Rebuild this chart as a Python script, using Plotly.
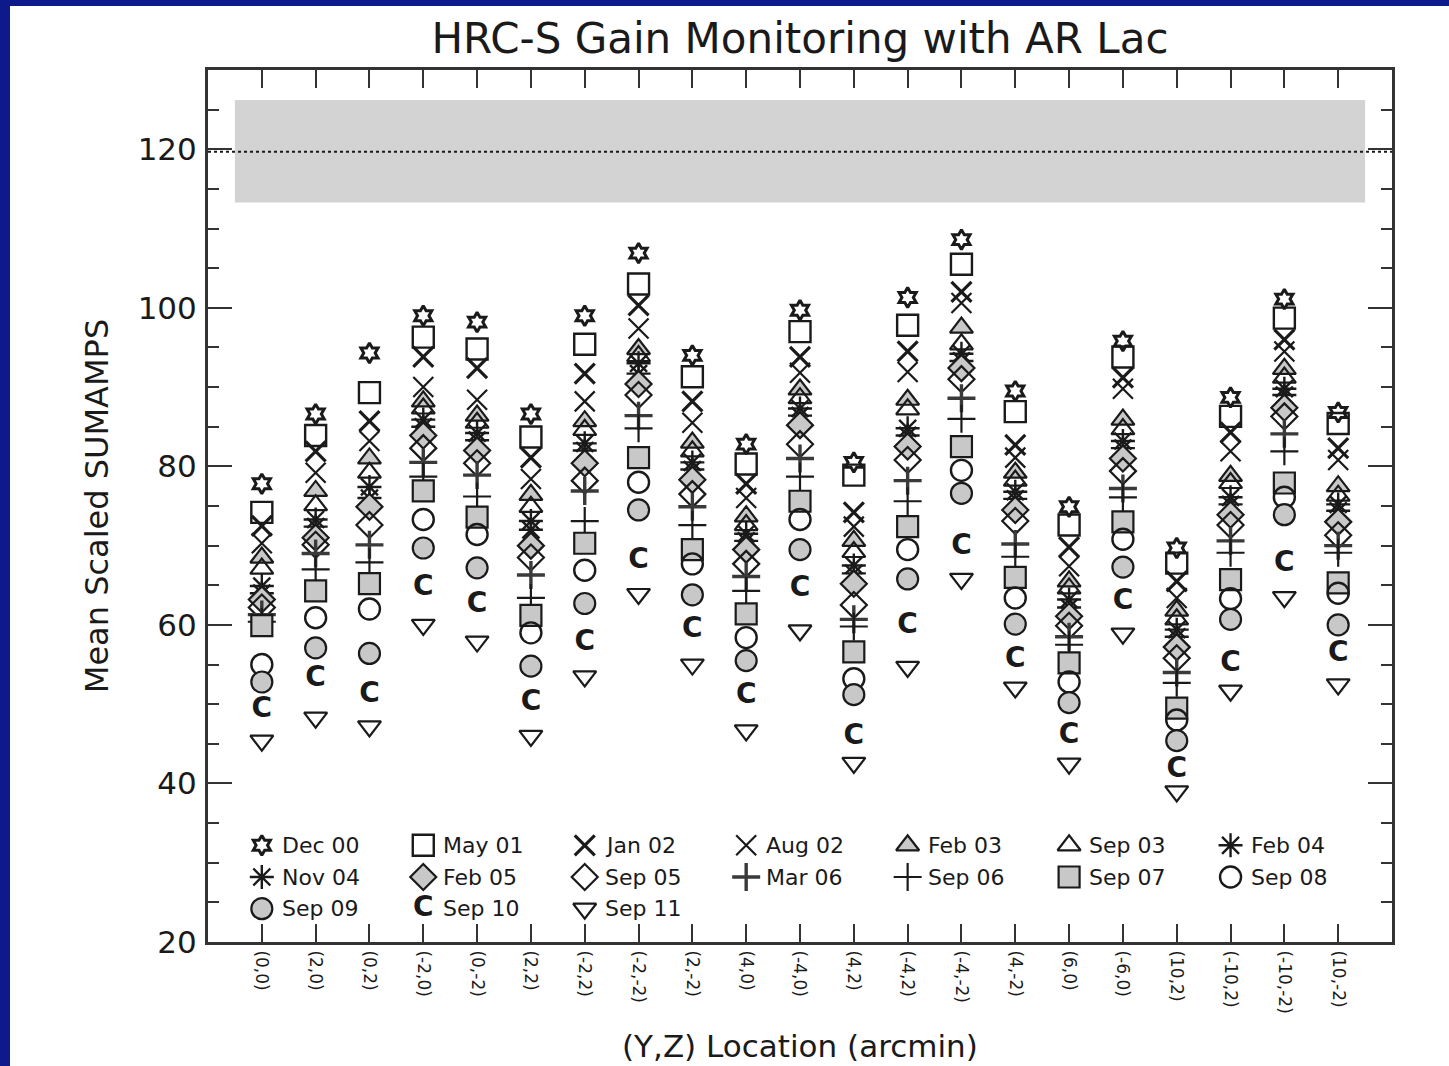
import plotly.graph_objects as go

# ---------------- data ----------------
locations = ["(0,0)", "(2,0)", "(0,2)", "(-2,0)", "(0,-2)", "(2,2)", "(-2,2)",
             "(-2,-2)", "(2,-2)", "(4,0)", "(-4,0)", "(4,2)", "(-4,2)", "(-4,-2)",
             "(4,-2)", "(6,0)", "(-6,0)", "(10,2)", "(-10,2)", "(-10,-2)", "(10,-2)"]

epochs = ["Dec 00", "May 01", "Jan 02", "Aug 02", "Feb 03", "Sep 03", "Feb 04",
          "Nov 04", "Feb 05", "Sep 05", "Mar 06", "Sep 06", "Sep 07", "Sep 08",
          "Sep 09", "Sep 10", "Sep 11"]

dec00 = [77.8, 86.6, 94.3, 99.0, 98.2, 86.6, 99.0, 106.9, 94.0, 82.8, 99.7, 80.5, 101.3, 108.6, 89.5, 74.9, 95.8, 69.7, 88.7, 101.1, 86.8]
may01 = [74.2, 83.9, 89.3, 96.3, 94.8, 83.7, 95.4, 103.0, 91.3, 80.3, 97.0, 78.9, 97.8, 105.5, 86.9, 72.6, 93.8, 67.8, 86.3, 98.7, 85.4]
jan02 = [72.5, 81.9, 85.7, 93.8, 92.4, 81.1, 91.7, 100.3, 88.2, 77.8, 93.8, 74.2, 94.5, 102.0, 82.7, 69.8, 91.2, 65.5, 84.3, 96.0, 82.3]
aug02 = [70.3, 79.2, 83.2, 90.0, 88.4, 78.4, 88.2, 97.4, 85.5, 76.0, 91.8, 72.4, 91.9, 100.6, 81.1, 67.4, 89.8, 63.4, 81.9, 94.5, 80.8]
feb03 = [68.5, 76.9, 81.0, 88.2, 86.4, 76.4, 85.7, 94.8, 83.0, 73.7, 89.7, 70.6, 88.4, 97.5, 79.2, 65.5, 85.9, 61.8, 78.8, 92.3, 77.5]
sep03 = [67.1, 75.1, 79.2, 87.3, 85.5, 74.9, 84.6, 93.9, 81.9, 72.6, 88.6, 69.2, 87.2, 95.4, 78.2, 64.6, 84.7, 60.7, 77.9, 91.2, 76.3]
feb04 = [64.9, 73.3, 77.4, 85.9, 84.2, 73.1, 82.9, 93.0, 80.5, 71.5, 87.3, 67.5, 84.8, 94.2, 76.8, 63.2, 83.2, 59.4, 76.1, 89.8, 75.2]
nov04 = [64.0, 72.4, 76.0, 85.0, 83.3, 72.0, 82.0, 91.7, 79.6, 70.6, 86.4, 66.5, 83.9, 93.3, 75.9, 62.2, 82.3, 58.5, 75.2, 89.0, 74.4]
feb05 = [63.2, 71.0, 74.9, 83.9, 82.0, 70.0, 80.4, 90.4, 78.3, 69.5, 85.2, 65.2, 82.5, 92.4, 74.5, 61.1, 81.0, 57.2, 73.9, 87.4, 73.0]
sep05 = [62.2, 70.1, 72.6, 82.3, 80.4, 68.5, 78.2, 89.0, 76.5, 67.7, 82.8, 62.5, 80.8, 91.0, 73.1, 59.9, 79.4, 55.8, 72.6, 86.3, 71.3]
mar06 = [61.3, 69.0, 70.1, 80.5, 78.9, 66.3, 76.9, 86.4, 74.9, 66.1, 81.0, 60.7, 78.2, 88.6, 70.2, 58.5, 77.2, 54.0, 70.6, 84.1, 70.0]
sep06 = [60.4, 67.0, 67.9, 78.7, 76.2, 63.4, 73.1, 84.8, 72.6, 64.3, 78.7, 59.8, 75.6, 86.0, 68.6, 57.5, 76.1, 52.7, 69.1, 81.9, 69.1]
sep07 = [59.9, 64.3, 65.2, 76.9, 73.6, 61.2, 70.3, 81.1, 69.5, 61.4, 75.6, 56.6, 72.4, 82.5, 66.0, 55.2, 73.0, 49.5, 65.7, 77.9, 65.3]
sep08 = [55.0, 60.9, 62.0, 73.3, 71.4, 59.0, 66.9, 78.0, 67.7, 58.4, 73.3, 53.2, 69.5, 79.5, 63.4, 52.8, 70.8, 48.0, 63.3, 76.1, 64.0]
sep09 = [52.8, 57.1, 56.4, 69.7, 67.2, 54.8, 62.7, 74.5, 63.8, 55.5, 69.5, 51.2, 65.8, 76.6, 60.1, 50.2, 67.3, 45.4, 60.7, 73.9, 60.0]
sep10 = [49.3, 53.2, 51.2, 64.7, 62.5, 50.2, 57.7, 68.0, 59.3, 51.0, 64.5, 45.8, 59.9, 69.8, 55.6, 46.0, 62.9, 41.7, 55.1, 67.7, 56.3]
sep11 = [45.4, 48.3, 47.2, 60.0, 57.9, 46.0, 53.5, 63.9, 55.0, 46.7, 59.3, 42.6, 54.7, 65.8, 52.1, 42.5, 58.9, 39.0, 51.7, 63.5, 52.5]

series = [dec00, may01, jan02, aug02, feb03, sep03, feb04, nov04, feb05, sep05,
          mar06, sep06, sep07, sep08, sep09, sep10, sep11]

band_low, band_high, nominal = 113.3, 126.2, 119.7

# ---------------- styles ----------------
GRAY = "#c8c8c8"
INK = "#1a1a1a"
FONT = "DejaVu Sans"
# (symbol, size, fill, line width); None symbol -> crescent glyph drawn as text
styles = [
    ("hexagram-open", 15, INK, 3.0),
    ("square-open", 21, INK, 2.4),
    ("x-thin-open", 20, INK, 3.2),
    ("x-thin-open", 20, INK, 2.2),
    ("triangle-up", 20, GRAY, 2.2),
    ("triangle-up-open", 20, INK, 2.2),
    ("asterisk-open", 20, INK, 2.4),
    ("asterisk-open", 20, INK, 2.4),
    ("diamond", 20, GRAY, 2.2),
    ("diamond-open", 20, INK, 2.2),
    ("cross-thin-open", 20, "#3a3a3a", 3.4),
    ("cross-thin-open", 20, INK, 2.2),
    ("square", 21, GRAY, 2.2),
    ("circle-open", 21, INK, 2.4),
    ("circle", 21, GRAY, 2.2),
    (None, 28, INK, 0),
    ("triangle-down-open", 20, INK, 2.2),
]

xpos = list(range(1, len(locations) + 1))

fig = go.Figure()


def crescent_font(size):
    return dict(family=FONT, size=size, color=INK, weight="bold")


for name, vals, (sym, size, col, lw) in zip(epochs, series, styles):
    if sym is None:
        fig.add_trace(go.Scatter(
            x=xpos, y=vals, mode="text", text=["C"] * len(vals),
            textposition="middle center", name=name, showlegend=False,
            textfont=crescent_font(size)))
    else:
        fig.add_trace(go.Scatter(
            x=xpos, y=vals, mode="markers", name=name, showlegend=False,
            marker=dict(symbol=sym, size=size, color=col,
                        line=dict(color=INK, width=lw))))

# ---------------- in-plot key (7 columns x 3 rows) ----------------
key_cols = 7
key_x0, key_dx = 1, 3
key_y0, key_dy = 32.2, 4.0
annotations = []
for i, (name, (sym, size, col, lw)) in enumerate(zip(epochs, styles)):
    kx = key_x0 + key_dx * (i % key_cols)
    ky = key_y0 - key_dy * (i // key_cols)
    if sym is None:
        fig.add_trace(go.Scatter(
            x=[kx], y=[ky], mode="text", text=["C"], showlegend=False,
            hoverinfo="skip", textposition="middle center",
            textfont=crescent_font(size)))
    else:
        fig.add_trace(go.Scatter(
            x=[kx], y=[ky], mode="markers", showlegend=False, hoverinfo="skip",
            marker=dict(symbol=sym, size=size, color=col,
                        line=dict(color=INK, width=lw))))
    annotations.append(dict(x=kx, y=ky, xref="x", yref="y", text=name,
                            showarrow=False, xanchor="left", yanchor="middle",
                            xshift=18, font=dict(family=FONT, size=22, color=INK)))

# x-axis title near the bottom edge of the page
annotations.append(dict(x=0.5, y=-(1046 - 942) / 872, xref="paper", yref="paper",
                        text="(Y,Z) Location (arcmin)", showarrow=False,
                        xanchor="center", yanchor="middle",
                        font=dict(family=FONT, size=31, color=INK)))

# ---------------- layout ----------------
W, H = 1449, 1066
ml, mr, mt, mb = 208, 57, 70, 124
pw, ph = W - ml - mr, H - mt - mb

shapes = [
    # white page panel inside the dark-blue slide frame
    dict(type="rect", xref="paper", yref="paper",
         x0=(10 - ml) / pw, x1=(W + 20 - ml) / pw,
         y0=-(H + 20 - (mt + ph)) / ph, y1=(mt + ph - 6) / ph,
         fillcolor="white", line=dict(width=0), layer="below"),
    dict(type="rect", xref="x", yref="y", x0=0.5, x1=21.5,
         y0=band_low, y1=band_high, fillcolor="#d3d3d3",
         line=dict(width=0), layer="below"),
    dict(type="line", xref="paper", yref="y", x0=0, x1=1,
         y0=nominal, y1=nominal, line=dict(color=INK, width=2, dash="dot"),
         layer="above"),
]

fig.update_layout(
    width=W, height=H,
    margin=dict(l=ml, r=mr, t=mt, b=mb),
    paper_bgcolor="#0e1a8c",
    plot_bgcolor="white",
    showlegend=False,
    title=dict(text="HRC-S Gain Monitoring with AR Lac", x=(ml + pw / 2) / W,
               xanchor="center", y=1 - 38 / H, yanchor="middle", yref="container",
               font=dict(family=FONT, size=42, color=INK)),
    shapes=shapes,
    annotations=annotations,
    font=dict(family=FONT, color=INK),
)

fig.update_xaxes(
    range=[0, 22], tickmode="array", tickvals=xpos, ticktext=locations,
    tickangle=90, tickfont=dict(family=FONT, size=17, color=INK),
    ticks="inside", ticklen=18, tickwidth=2, tickcolor="#333333",
    showline=True, linewidth=3, linecolor="#333333", mirror="allticks",
    showgrid=False, zeroline=False, ticklabelstandoff=2,
)

fig.update_yaxes(
    range=[20, 130], tick0=20, dtick=20, tickmode="linear",
    tickfont=dict(family=FONT, size=31, color=INK),
    ticks="inside", ticklen=24, tickwidth=2, tickcolor="#333333",
    minor=dict(dtick=5, tick0=20, ticks="inside", ticklen=11, tickwidth=2,
               tickcolor="#333333", showgrid=False),
    showline=True, linewidth=3, linecolor="#333333", mirror="allticks",
    showgrid=False, zeroline=False, ticklabelstandoff=2,
    title=dict(text="Mean Scaled SUMAMPS", standoff=20,
               font=dict(family=FONT, size=32, color=INK)),
)

fig.write_html("out.html", config={"displayModeBar": False},
               post_script="document.body.style.margin='0';"
                           "document.body.style.overflow='hidden';")
